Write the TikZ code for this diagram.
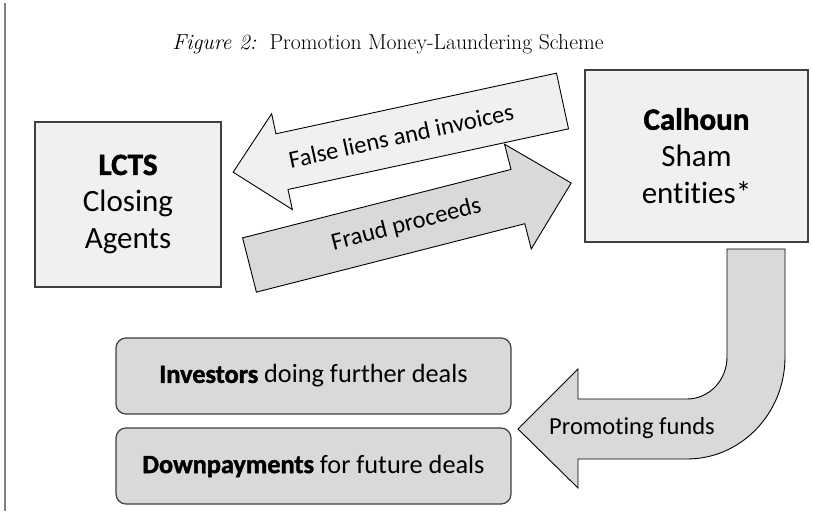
\documentclass[tikz,border=0pt]{standalone}
\usepackage{fontspec}
\setsansfont{Carlito}[Ligatures=NoCommon, BoldFeatures={FakeBold=1.5}]
\usepackage{tikz}

\definecolor{lightfill}{HTML}{F0F0F0}
\definecolor{darkfill}{HTML}{D9D9D9}
\definecolor{edgegray}{HTML}{3F3F3F}

\begin{document}
\begin{tikzpicture}[x=1pt, y=1pt,
  entity/.style={draw=edgegray, line width=1.5pt, fill=lightfill, align=center, inner sep=0pt,
    font=\sffamily\fontsize{31}{37}\selectfont},
  dealbox/.style={draw=edgegray, line width=1.2pt, fill=darkfill, rounded corners=10pt,
    minimum width=395pt, minimum height=76pt, font=\sffamily\fontsize{26.3}{30}\selectfont},
  blockarrow/.style={draw=black, line width=0.9pt, line join=miter},
  flowtext/.style={font=\sffamily\fontsize{24.5}{29}\selectfont}]
  \useasboundingbox (0,0) rectangle (813,514);

  % Left margin rule
  \draw[gray, line width=1.2pt] (5,3) -- (5,511);

  % Title
  \node[anchor=base] (title) at (388,464)
    {\fontsize{21.7}{26}\selectfont\textit{Figure 2:}\ \ Promotion Money-Laundering Scheme};

  % Closing agents and sham entities
  \node[entity, minimum width=186pt, minimum height=165pt] (lcts) at (128,309.5)
    {\textbf{LCTS}\\Closing\\Agents};
  \node[entity, minimum width=223pt, minimum height=172pt] (calhoun) at (696.5,358)
    {\textbf{Calhoun}\\Sham\\entities*};

  % Where the money ends up
  \node[dealbox] (investors) at (313.5,138) {\textbf{Investors} doing further deals};
  \node[dealbox] (downpay) at (313.5,48) {\textbf{Downpayments} for future deals};

  % False liens and invoices (towards LCTS)
  \begin{scope}[shift={(562.5,413)}, rotate=192.2]
    \draw[blockarrow, fill=lightfill] (0,-28.5) -- (287,-28.5) -- (287,-49) -- (337,0)
      -- (287,49) -- (287,28.5) -- (0,28.5) -- cycle;
    \node[flowtext, rotate=12.2] (liens) at (165,0) {False liens and invoices};
  \end{scope}

  % Fraud proceeds (towards Calhoun)
  \begin{scope}[shift={(249.5,249)}, rotate=14.3]
    \draw[blockarrow, fill=darkfill] (0,-28) -- (277,-28) -- (277,-54) -- (332,0)
      -- (277,54) -- (277,28) -- (0,28) -- cycle;
    \node[flowtext, rotate=14.3] (proceeds) at (162,0) {Fraud proceeds};
  \end{scope}

  % Promoting funds, bent arrow
  \draw[blockarrow, fill=darkfill] (727,265) -- (785,265) -- (785,157)
    arc[start angle=0, end angle=-90, x radius=98, y radius=102]
    -- (578,55) -- (578,26) -- (518,85) -- (578,145) -- (578,115) -- (687,115)
    arc[start angle=-90, end angle=0, x radius=40, y radius=42] -- cycle;
  \node[flowtext] (funds) at (632,86) {Promoting funds};
\end{tikzpicture}
\end{document}
